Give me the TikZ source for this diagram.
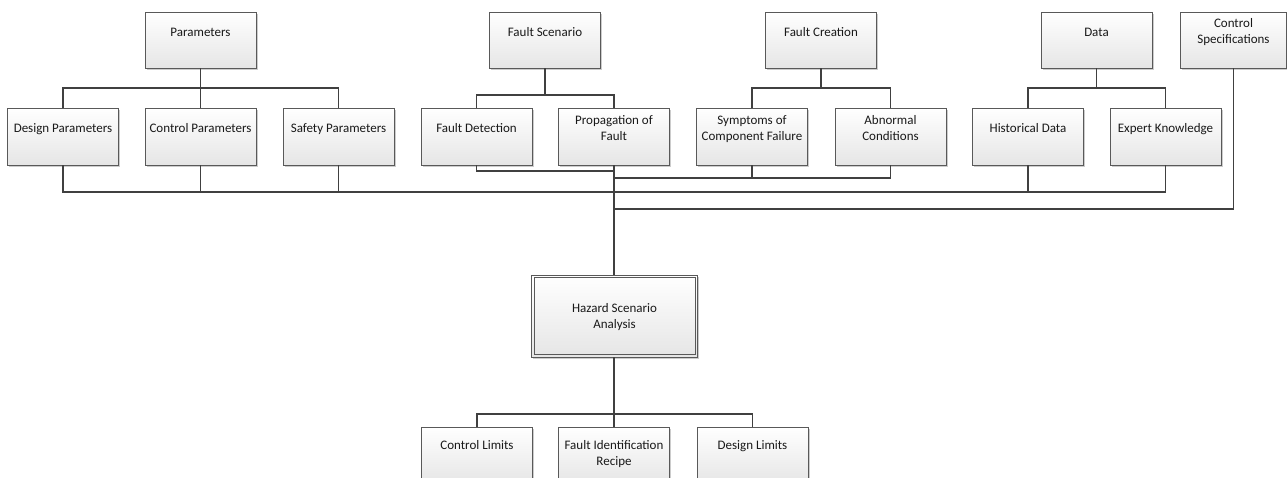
\documentclass[tikz,border=0pt]{standalone}
\usepackage{fontspec}
\setmainfont{Carlito}
\usetikzlibrary{calc,shadows}
\begin{document}
\begin{tikzpicture}[x=1pt,y=-1pt,
  box/.style={draw=black!65, line width=0.8pt, top color=white, bottom color=black!10,
    drop shadow={shadow xshift=1.6pt, shadow yshift=-1.6pt, fill=black!40, opacity=0.5},
    inner sep=0pt, minimum width=111pt, minimum height=56pt},
  lbl/.style={font=\fontsize{13}{16}\selectfont, align=center, text=black!90, inner sep=0pt, anchor=base},
  conn/.style={draw=black!75, line width=1.2pt},
  trunk/.style={draw=black!75, line width=2.2pt}]
\useasboundingbox (0,0) rectangle (1287,478);
\clip (0,0) rectangle (1287,478);

% ---- top row ----
\node[box] (par) at (200.5,40) {};
\node[box] (fs)  at (545,40) {};
\node[box] (fc)  at (821,40) {};
\node[box] (dat) at (1096.5,40) {};
\node[box, minimum width=106pt] (cs) at (1233.5,40) {};
\node[lbl] (tpar) at (200.5,37) {Parameters};
\node[lbl] (tfs)  at (545,37) {Fault Scenario};
\node[lbl] (tfc)  at (821,37) {Fault Creation};
\node[lbl] (tdat) at (1096.5,37) {Data};
\node[lbl] (tcs)  at (1233.5,44) {Control\\Specifications};

% ---- second row ----
\node[box, minimum height=57pt] (dp) at (63,136.5) {};
\node[box, minimum height=57pt] (cp) at (200.5,136.5) {};
\node[box, minimum height=57pt] (sp) at (338.5,136.5) {};
\node[box, minimum height=57pt] (fd) at (476.5,136.5) {};
\node[box, minimum height=57pt] (pf) at (614,136.5) {};
\node[box, minimum height=57pt] (sy) at (752,136.5) {};
\node[box, minimum height=57pt] (ac) at (890.5,136.5) {};
\node[box, minimum height=57pt] (hd) at (1028,136.5) {};
\node[box, minimum height=57pt] (ek) at (1165.5,136.5) {};
\node[lbl] (tdp) at (63,133) {Design Parameters};
\node[lbl] (tcp) at (200.5,133) {Control Parameters};
\node[lbl] (tsp) at (338.5,133) {Safety Parameters};
\node[lbl] (tfd) at (476.5,133) {Fault Detection};
\node[lbl] (tpf) at (614,141) {Propagation of\\Fault};
\node[lbl] (tsy) at (752,141) {Symptoms of\\Component Failure};
\node[lbl] (tac) at (890.5,141) {Abnormal\\Conditions};
\node[lbl] (thd) at (1028,133) {Historical Data};
\node[lbl] (tek) at (1165.5,133) {Expert Knowledge};

% ---- hazard ----
\node[box, minimum width=166pt, minimum height=82pt] (hz) at (614.5,316) {};
\draw[draw=black!65, line width=0.8pt] ($(hz.north west)+(3,3)$) rectangle ($(hz.south east)+(-3,-3)$);
\node[lbl] (thz) at (614.5,328) {Hazard Scenario\\Analysis};

% ---- bottom row ----
\node[box, minimum height=57pt] (cl) at (477,455.5) {};
\node[box, minimum height=57pt] (fi) at (614,455.5) {};
\node[box, minimum height=57pt] (dl) at (752.5,455.5) {};
\node[lbl] (tcl) at (477,449) {Control Limits};
\node[lbl] (tfi) at (614,465) {Fault Identification\\Recipe};
\node[lbl] (tdl) at (752.5,449) {Design Limits};

% ---- upper trees ----
\draw[conn] (par.south) -- (par.south |- 0,88);
\draw[conn] (dp.north) |- (sp.north |- 0,88) -- (sp.north);
\draw[conn] (cp.north) -- (cp.north |- 0,88);

\draw[conn] (fs.south) -- (fs.south |- 0,95);
\draw[conn] (fd.north) |- (pf.north |- 0,95) -- (pf.north);

\draw[conn] (fc.south) -- (fc.south |- 0,88);
\draw[conn] (sy.north) |- (ac.north |- 0,88) -- (ac.north);

\draw[conn] (dat.south) -- (dat.south |- 0,88);
\draw[conn] (hd.north) |- (ek.north |- 0,88) -- (ek.north);

% ---- joins on trunk ----
\coordinate (j171) at (pf.south |- 0,171);
\coordinate (j178) at (pf.south |- 0,178);
\coordinate (j192) at (pf.south |- 0,192);
\coordinate (j209) at (pf.south |- 0,209);

\draw[conn] (dp.south) |- (j192);
\draw[conn] (cp.south) -- (cp.south |- j192);
\draw[conn] (sp.south) -- (sp.south |- j192);
\draw[conn] (fd.south) |- (j171);
\draw[conn] (ac.south) |- (j178);
\draw[conn] (sy.south) -- (sy.south |- j178);
\draw[conn] (ek.south) |- (j192);
\draw[conn] (hd.south) -- (hd.south |- j192);
\draw[conn] (cs.south) |- (j209);
\draw[trunk] (pf.south) -- (pf.south |- hz.north);

% ---- lower tree ----
\draw[trunk] (hz.south -| fi.north) -- (fi.north |- 0,414);
\draw[conn] (cl.north) |- (dl.north |- 0,414) -- (dl.north);
\draw[conn] (fi.north) -- (fi.north |- 0,414);
\end{tikzpicture}
\end{document}
